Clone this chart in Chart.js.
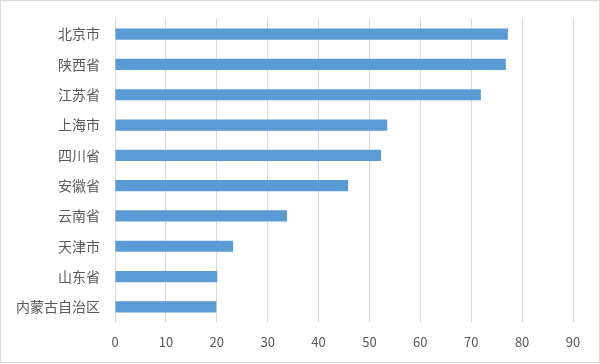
<!DOCTYPE html>
<html>
<head>
<meta charset="utf-8">
<script src="https://cdn.jsdelivr.net/npm/chart.js@4/dist/chart.umd.min.js"></script>
<style>
  html, body { margin: 0; padding: 0; background: #fff; }
  #wrap { width: 600px; height: 364px; position: relative; }
</style>
</head>
<body>
<div id="wrap"><canvas id="chart"></canvas></div>
<script>
// provinces, top to bottom
const provinces = ['北京市', '陕西省', '江苏省', '上海市', '四川省', '安徽省', '云南省', '天津市', '山东省', '内蒙古自治区'];
const values = [77.2, 76.8, 71.9, 53.5, 52.3, 45.8, 33.8, 23.2, 20.1, 19.9];
const xTicks = [0, 10, 20, 30, 40, 50, 60, 70, 80, 90];

const labelFont = '"Noto Sans CJK SC", "Noto Sans", sans-serif';
const gridColor = '#d9d9d9';
const textColor = '#595959';

// white background plus the thin grey frame round the chart area
const frame = {
    id: 'frame',
    beforeDraw(chart) {
        const ctx = chart.ctx;
        ctx.save();
        ctx.fillStyle = '#ffffff';
        ctx.fillRect(0, 0, chart.width, chart.height);
        ctx.strokeStyle = gridColor;
        ctx.lineWidth = 1;
        ctx.strokeRect(0.5, 0.5, chart.width - 1, chart.height - 2);
        ctx.restore();
    }
};

const ctx = document.getElementById('chart').getContext('2d');
const chart = new Chart(ctx, {
    type: 'bar',
    data: {
        labels: provinces,
        datasets: [{
            data: values,
            backgroundColor: '#5b9bd5',
            borderWidth: 0,
            categoryPercentage: 1,
            barPercentage: 0.37
        }]
    },
    options: {
        indexAxis: 'y',
        responsive: true,
        maintainAspectRatio: false,
        animation: false,
        layout: { padding: { top: 19, right: 27, bottom: 0, left: 0 } },
        plugins: {
            legend: { display: false },
            tooltip: { enabled: false }
        },
        scales: {
            x: {
                min: 0,
                max: 90,
                afterBuildTicks(scale) {
                    scale.ticks = xTicks.map(v => ({ value: v }));
                },
                afterFit(scale) {
                    scale.height = 42;
                    scale.paddingLeft = 0;
                    scale.paddingRight = 0;
                },
                grid: { color: gridColor, lineWidth: 1, drawTicks: false },
                border: { display: false },
                ticks: {
                    padding: 12,
                    color: textColor,
                    font: { family: labelFont, size: 13 }
                }
            },
            y: {
                afterFit(scale) {
                    scale.width = 115;
                    // labels sit mid-category, so no extra room needed above/below
                    scale.paddingTop = 0;
                    scale.paddingBottom = 0;
                },
                grid: { display: false, drawTicks: false },
                border: { display: true, color: gridColor, width: 1 },
                ticks: {
                    padding: 15,
                    color: textColor,
                    font: { family: labelFont, size: 14 }
                }
            }
        }
    },
    plugins: [frame]
});
</script>
</body>
</html>
